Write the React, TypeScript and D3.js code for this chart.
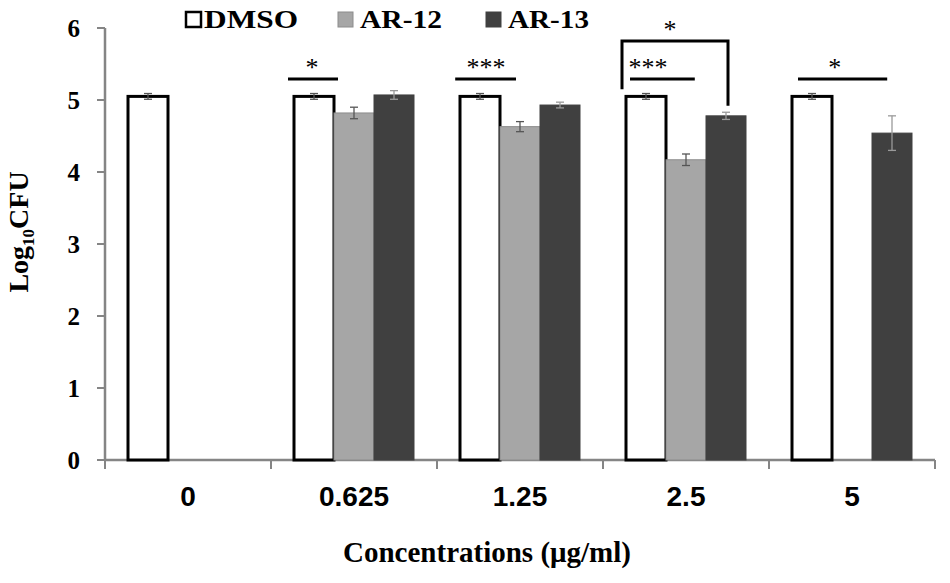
import * as d3 from 'd3';

const categories = ["0", "0.625", "1.25", "2.5", "5"];
const seriesNames = ["DMSO", "AR-12", "AR-13"];
const seriesFills = ["#ffffff", "#a6a6a6", "#404040"];
const seriesStrokes = ["#000000", "#8c8c8c", "#404040"];

// mean Log10CFU per concentration (null = not tested)
const dmsoMeans = [5.05, 5.05, 5.05, 5.05, 5.05];
const dmsoErrors = [0.04, 0.04, 0.04, 0.04, 0.04];
const ar12Means = [null, 4.82, 4.63, 4.17, null];
const ar12Errors = [null, 0.08, 0.07, 0.08, null];
const ar13Means = [null, 5.07, 4.93, 4.78, 4.54];
const ar13Errors = [null, 0.06, 0.04, 0.05, 0.24];

const yTicks = [0, 1, 2, 3, 4, 5, 6];

// significance lines: from/to/labelAt in bar slots from the group's left edge
const sigLines = [
    { cat: "0.625", from: -0.15, to: 1.1, labelAt: 0.45, y: 5.29, label: "*" },
    { cat: "1.25", from: -0.12, to: 1.4, labelAt: 0.65, y: 5.29, label: "***" },
    { cat: "2.5", from: 0.1, to: 1.72, labelAt: 0.55, y: 5.29, label: "***" },
    { cat: "5", from: 0.15, to: 2.38, labelAt: 1.07, y: 5.29, label: "*" },
];
const sigBracket = { cat: "2.5", from: -0.1, to: 2.55, top: 5.82, leftEnd: 5.15, rightEnd: 4.92, labelAt: 1.1, label: "*" };

const W = 950;
const H = 583;
const serif = '"Liberation Serif", "Times New Roman", serif';
const sans = '"Liberation Sans", Arial, sans-serif';

export default function App() {
    const x = d3.scaleBand<string>().domain(categories).range([105, 935]);
    const groupW = 120;
    const inner = d3.scaleBand<string>().domain(seriesNames).range([0, groupW]);
    const y = d3.scaleLinear().domain([0, 6]).range([460, 28]);
    const groupLeft = (c: string) => (x(c) ?? 0) + (x.bandwidth() - groupW) / 2;
    const slot = (c: string, s: number) => groupLeft(c) + s * inner.bandwidth();

    const means = [dmsoMeans, ar12Means, ar13Means];
    const errors = [dmsoErrors, ar12Errors, ar13Errors];

    const bars = seriesNames.flatMap((s, si) =>
        categories.map((c, ci) => ({ s, si, c, v: means[si][ci], e: errors[si][ci] }))
    ).filter(d => d.v != null);

    const axisColor = "#858585";
    const legendX = [186, 338, 486];
    const legendLen = [94, 82, 81];

    return (
        <svg width={W} height={H} style={{ position: 'absolute', left: 0, top: 0, background: '#fff' }}>
            {/* axes */}
            <line x1={105} x2={105} y1={y(6)} y2={y(0)} stroke={axisColor} strokeWidth={2.5} />
            <line x1={105} x2={935} y1={y(0)} y2={y(0)} stroke={axisColor} strokeWidth={2.5} />
            {yTicks.map(t => (
                <g key={t}>
                    <line x1={97} x2={105} y1={y(t)} y2={y(t)} stroke={axisColor} strokeWidth={2} />
                    <text x={80} y={y(t)} dy="0.35em" textAnchor="end" fontFamily={serif} fontWeight="bold" fontSize={25}>{t}</text>
                </g>
            ))}
            {[...categories.map(c => x(c) ?? 0), 935].map((tx, i) => (
                <line key={i} x1={tx} x2={tx} y1={y(0)} y2={y(0) + 9} stroke={axisColor} strokeWidth={2} />
            ))}
            {categories.map(c => (
                <text key={c} x={(x(c) ?? 0) + x.bandwidth() / 2} y={506} textAnchor="middle" fontFamily={sans} fontWeight="bold" fontSize={28}>{c}</text>
            ))}

            {/* bars */}
            {bars.map(d => {
                const bx = groupLeft(d.c) + (inner(d.s) ?? 0);
                return (
                    <rect key={d.s + d.c} x={bx} y={y(d.v as number)} width={inner.bandwidth()} height={y(0) - y(d.v as number)}
                        fill={seriesFills[d.si]} stroke={seriesStrokes[d.si]} strokeWidth={d.si === 0 ? 3 : 1} />
                );
            })}
            {/* error bars */}
            {bars.map(d => {
                const cx = groupLeft(d.c) + (inner(d.s) ?? 0) + inner.bandwidth() / 2;
                const top = y((d.v as number) + (d.e as number));
                const bot = y((d.v as number) - (d.e as number));
                const col = d.si === 2 ? "#9a9a9a" : "#555";
                return (
                    <g key={"e" + d.s + d.c} stroke={col} strokeWidth={1.3}>
                        <line x1={cx} x2={cx} y1={top} y2={bot} />
                        <line x1={cx - 4} x2={cx + 4} y1={top} y2={top} />
                        <line x1={cx - 4} x2={cx + 4} y1={bot} y2={bot} />
                    </g>
                );
            })}

            {/* significance */}
            {sigLines.map(s => (
                <g key={s.cat}>
                    <line x1={slot(s.cat, s.from)} x2={slot(s.cat, s.to)} y1={y(s.y)} y2={y(s.y)} stroke="#000" strokeWidth={3} />
                    <text x={slot(s.cat, s.labelAt)} y={y(s.y) - 3} textAnchor="middle" fontFamily={serif} fontSize={26}>{s.label}</text>
                </g>
            ))}
            <path d={`M${slot(sigBracket.cat, sigBracket.from)},${y(sigBracket.leftEnd)}V${y(sigBracket.top)}H${slot(sigBracket.cat, sigBracket.to)}V${y(sigBracket.rightEnd)}`}
                fill="none" stroke="#000" strokeWidth={3} />
            <text x={slot(sigBracket.cat, sigBracket.labelAt)} y={y(sigBracket.top) - 3} textAnchor="middle" fontFamily={serif} fontSize={26}>{sigBracket.label}</text>

            {/* legend */}
            {seriesNames.map((s, i) => (
                <g key={s}>
                    <rect x={legendX[i]} y={12} width={15} height={15} fill={seriesFills[i]} stroke={i === 0 ? "#000" : seriesStrokes[i]} strokeWidth={i === 0 ? 2.5 : 1} />
                    <text x={legendX[i] + (i === 0 ? 18 : 22)} y={28} fontFamily={serif} fontWeight="bold" fontSize={25}
                        textLength={legendLen[i]} lengthAdjust="spacingAndGlyphs">{s}</text>
                </g>
            ))}

            {/* axis titles */}
            <text transform={`translate(28,232) rotate(-90)`} textAnchor="middle" fontFamily={serif} fontWeight="bold" fontSize={28}>
                Log<tspan fontSize={17} dy={6}>10</tspan><tspan dy={-6}>CFU</tspan>
            </text>
            <text x={487} y={562} textAnchor="middle" fontFamily={serif} fontWeight="bold" fontSize={29}>Concentrations (μg/ml)</text>
        </svg>
    );
}
